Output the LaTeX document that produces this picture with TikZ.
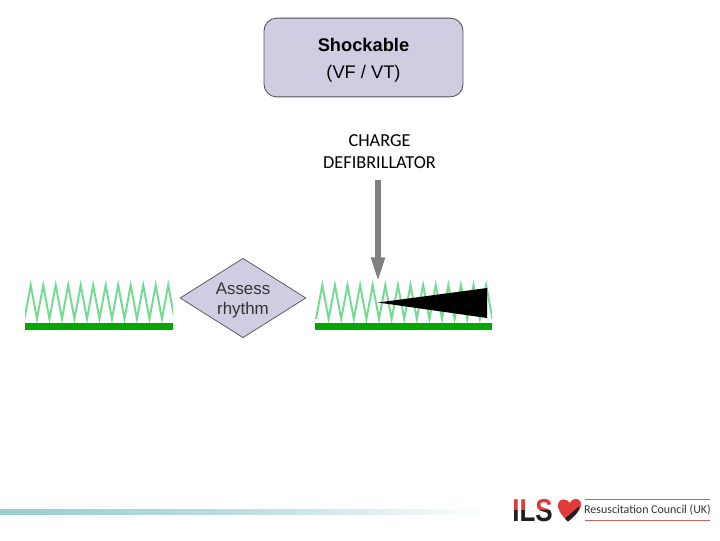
\documentclass[tikz,border=0pt]{standalone}
\usepackage{fontspec}
\setmainfont{Liberation Sans}
\newfontfamily\carlito{Carlito}
\usetikzlibrary{arrows.meta}
\usetikzlibrary{positioning}
\usetikzlibrary{shapes.geometric}
\definecolor{boxfill}{HTML}{CFCDE2}
\definecolor{boxline}{HTML}{505050}
\definecolor{traceline}{HTML}{74DA94}
\definecolor{tracebar}{HTML}{00A800}
\definecolor{footerline}{HTML}{97CDD2}
\definecolor{logored}{HTML}{E03A3A}
\definecolor{logorule}{HTML}{D06060}
\definecolor{logotext}{HTML}{333333}
\tikzstyle{every node}=[font=\fontsize{12}{14}\selectfont]
\tikzstyle{trace}=[traceline,line width=1.4pt,line join=miter]
\tikzstyle{bar}=[fill=tracebar,draw=none]
\tikzstyle{shockarrow}=[-{Triangle[length=17.5pt,width=9pt]},gray,line width=4pt]
\tikzstyle{ilstext}=[inner sep=0pt,font=\bfseries\fontsize{22.5}{22.5}\selectfont]

\begin{document}
\begin{tikzpicture}[x=0.025cm,y=-0.025cm]
\useasboundingbox (0,0) rectangle (720,540);

\node[draw=boxline,fill=boxfill,rounded corners=9pt,minimum width=141.5pt,minimum height=56pt,align=center,inner sep=0pt,line width=0.6pt,font=\fontsize{13}{14.5}\selectfont] (shockable) at (363.5,57.5)
{\rule{0pt}{13.6pt}\textbf{Shockable}\\[4.5pt]
(VF / VT)
};
\node[align=center,inner sep=0pt,font=\carlito\fontsize{13}{15.5}\selectfont] (charge) at (379.5,152) {CHARGE\\DEFIBRILLATOR};
\node[diamond,aspect=1.58,draw=boxline,fill=boxfill,align=center,inner sep=0pt,minimum width=89.5pt,minimum height=56.5pt,line width=0.5pt,text=black!80] (assess) at (243,298) {\rule{0pt}{12.2pt}Assess\\rhythm};

\begin{scope}
\clip (25,270) rectangle (173,323);
\draw[trace] (24.45,319) \foreach \x in {30.7,43.2,...,168.4} { -- (\x,285) -- (\x+6.25,319) };
\end{scope}
\node[bar,minimum width=105pt,minimum height=5pt,inner sep=0pt] (barleft) at (99,326.5) {};

\begin{scope}
\clip (315,270) rectangle (492,323);
\draw[trace] (316,319) \foreach \x in {322.3,334.9,...,487} { -- (\x,285) -- (\x+6.3,319) };
\end{scope}
\node[bar,minimum width=125.5pt,minimum height=5pt,inner sep=0pt] (barright) at (403.5,326.5) {};

\coordinate (arrowtop) at (378,180);
\coordinate (arrowtip) at (378,282);
\draw[shockarrow] (arrowtop)--(arrowtip);
\fill[black] (378,302.5)--(487,288)--(487,318)--cycle;

\shade[left color=footerline,right color=white,middle color=footerline!65] (0,509) rectangle (490,514);

\begin{scope}
\clip (505,490) rectangle (560,510.5);
\node[ilstext,text=logored] (ilstop) at (532.5,511) {\scalebox{0.82}[1]{ILS}};
\end{scope}
\begin{scope}
\clip (505,510.5) rectangle (560,530);
\node[ilstext,text=logotext!60!black] (ilsbottom) at (532.5,511) {\scalebox{0.82}[1]{ILS}};
\end{scope}
\fill[logored] (568,521.5)..controls (560,514) and (557,508)..(558,504)..controls (559,498) and (567,498)..(569.5,503)..controls (572,498) and (580,497)..(581,503)..controls (582,508) and (577,514)..(568,521.5)--cycle;
\fill[logotext!60!black] (565,518.5)--(579.5,506)..controls (580,510) and (576,515)..(568,521.5)--cycle;

\node[inner sep=0pt,font=\carlito\fontsize{8.5}{10}\selectfont,text=logotext] (council) at (647.5,510) {Resuscitation Council (UK)};
\draw[logorule,line width=0.7pt] (585,499.5)--(710,499.5);
\draw[logorule,line width=0.7pt] (585,520)--(710,520);
\end{tikzpicture}
\end{document}
